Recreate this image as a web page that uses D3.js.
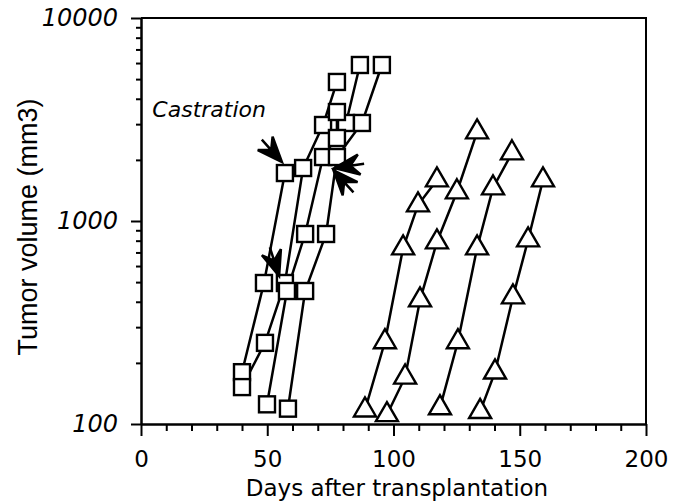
<!doctype html>
<html lang="en">
<head>
  <meta charset="utf-8">
  <title>Tumor volume</title>
  <style type="text/css">
    body{ margin:0; background:#fff; }
    text{ font-family: "DejaVu Sans", "Liberation Sans", Arial, sans-serif; fill:#000; }
    .axis path, .axis line{ stroke:#000; stroke-width:2; }
    .series{ fill:none; stroke:#000; stroke-width:2.5; }
    .sq, .tri{ fill:#fff; stroke:#000; stroke-width:2.4; }
  </style>
</head>
<body>
  <div id="vis"></div>
  <script src="https://cdn.jsdelivr.net/npm/d3@7"></script>
  <script type="text/javascript">

    var width = 674,
      height = 502;

    // [day, volume mm3]
    var squareSeries = [
      [[40,180],[48.7,495],[57,1723]],
      [[40,152],[49.1,251],[57,495],[64.2,1824],[72.1,2971],[77.6,4841]],
      [[49.9,125],[57.8,452],[65,863],[72.1,2066],[81.2,3040],[86.7,5868]],
      [[58.2,119],[65,452],[73.3,863],[77.6,2066],[87.5,3040],[95.4,5868]],
      [[77.6,2564],[77.6,3443]]
    ];

    var triangleSeries = [
      [[88.7,117],[96.6,254],[103.8,736],[109.7,1199],[117.2,1592]],
      [[97.4,111],[104.6,170],[110.5,408],[117.2,788],[125.1,1390],[133.1,2743]],
      [[118.4,120],[125.5,254],[133.1,736],[139.4,1454],[146.9,2163]],
      [[134.3,115],[140.2,180],[147.3,422],[153.3,806],[159.2,1592]]
    ];

    // castration arrows: tip [day, volume] and pointing angle (deg)
    var arrows = [
      {day:55.8, v:1953, angle:48},
      {day:54.7, v:536, angle:72},
      {day:76.6, v:1824, angle:172},
      {day:76.2, v:1780, angle:228}
    ];

    var xMajor = [0,50,100,150,200],
      yMajor = [100,1000,10000];

    var xMinor = d3.range(0, 201, 10).filter(function(d){ return d % 50 != 0; }),
      yMinor = [];
    [100,1000].forEach(function(b){
      for(var k = 2; k <= 9; k++){ yMinor.push(b*k); }
    });

    var svg = d3.select("#vis").append("svg")
      .attr("width", width)
      .attr("height", height);

    var x = d3.scaleLinear().domain([0,200]).range([141,646]);
    var y = d3.scaleLog().domain([100,10000]).range([424,18]);

    // frame
    svg.append("path")
      .attr("d", "M"+x(0)+","+y(10000)+"H"+x(200)+"V"+y(100))
      .style("fill","none").style("stroke","#000").style("stroke-width",2);

    var xAxis = svg.append("g").attr("class","axis")
      .attr("transform","translate(0,"+y(100)+")")
      .call(d3.axisBottom(x).tickValues(xMajor).tickSize(12).tickSizeOuter(0).tickPadding(15));
    svg.append("g").attr("class","axis")
      .attr("transform","translate(0,"+y(100)+")")
      .call(d3.axisBottom(x).tickValues(xMinor).tickSize(7).tickSizeOuter(0).tickFormat(""));

    var yAxis = svg.append("g").attr("class","axis")
      .attr("transform","translate("+x(0)+",0)")
      .call(d3.axisLeft(y).tickValues(yMajor).tickFormat(d3.format("d")).tickSize(10).tickSizeOuter(0).tickPadding(13));
    svg.append("g").attr("class","axis")
      .attr("transform","translate("+x(0)+",0)")
      .call(d3.axisLeft(y).tickValues(yMinor).tickSize(5).tickSizeOuter(0).tickFormat(""));

    xAxis.selectAll("text").style("font-size","23px");
    yAxis.selectAll("text").style("font-size","24px").style("font-style","italic");

    svg.append("text")
      .attr("x", 397).attr("y", 496)
      .attr("text-anchor","middle")
      .style("font-size","23px")
      .text("Days after transplantation");

    svg.append("text")
      .attr("transform","translate(37,227) rotate(-90)")
      .attr("text-anchor","middle")
      .style("font-family","'Liberation Sans', Arial, sans-serif")
      .style("font-size","27px")
      .text("Tumor volume (mm3)");

    svg.append("text")
      .attr("x", x(4.5)).attr("y", y(3250))
      .style("font-size","22px").style("font-style","italic")
      .text("Castration");

    var line = d3.line()
      .x(function(d){ return x(d[0]); })
      .y(function(d){ return y(d[1]); });

    var lines = svg.append('g'),
      marks = svg.append('g'),
      heads = svg.append('g');

    lines.selectAll(".sqline")
      .data(squareSeries)
      .enter().append("path")
      .attr("class","series")
      .attr("d", line);

    lines.selectAll(".triline")
      .data(triangleSeries)
      .enter().append("path")
      .attr("class","series")
      .attr("d", line);

    var s = 16;
    squareSeries.forEach(function(ser){
      marks.selectAll(null)
        .data(ser)
        .enter().append("rect")
        .attr("class","sq")
        .attr("x", function(d){ return x(d[0]) - s/2; })
        .attr("y", function(d){ return y(d[1]) - s/2; })
        .attr("width", s).attr("height", s);
    });

    var tri = d3.symbol().type(d3.symbolTriangle).size(210);
    triangleSeries.forEach(function(ser){
      marks.selectAll(null)
        .data(ser)
        .enter().append("path")
        .attr("class","tri")
        .attr("transform", function(d){ return "translate("+x(d[0])+","+y(d[1])+")"; })
        .attr("d", tri);
    });

    heads.selectAll("path")
      .data(arrows)
      .enter().append("path")
      .attr("transform", function(d){ return "translate("+x(d.day)+","+y(d.v)+") rotate("+d.angle+")"; })
      .attr("d", "M0,0L-25,-10L-16,0L-25,10Z M-16,0L-30,0")
      .style("fill","#000").style("stroke","#000").style("stroke-width",2.5);

  </script>
</body>
</html>
